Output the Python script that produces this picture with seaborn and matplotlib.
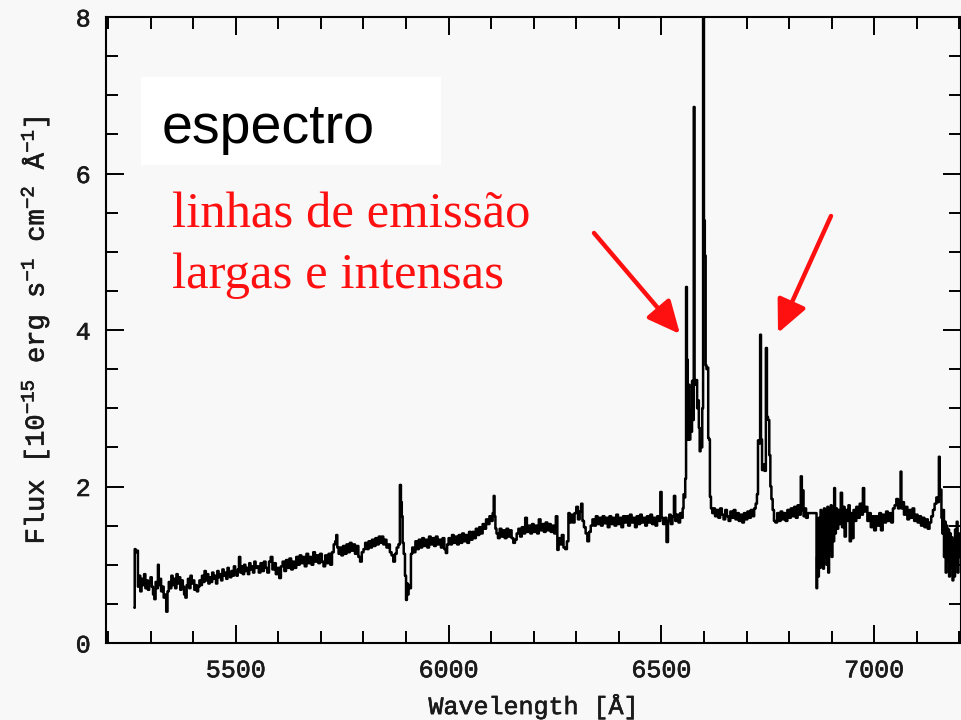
import matplotlib
matplotlib.use("Agg")
import matplotlib.pyplot as plt
import matplotlib.patheffects as pe
import seaborn as sns
import pandas as pd
from matplotlib.ticker import MultipleLocator
from matplotlib.patches import Rectangle

# ---------------- data (wavelength [A], flux) ----------------
blue_segment = [
    (5262, 0.45), (5263, 1.20), (5266, 1.16), (5269, 1.18), (5271, 0.72), (5274, 0.86),
    (5277, 0.66), (5280, 0.82), (5283, 0.74), (5286, 0.88), (5289, 0.70), (5292, 0.80),
    (5295, 0.68), (5298, 0.78), (5301, 0.84), (5304, 0.72), (5307, 0.62), (5310, 0.56),
    (5313, 0.78), (5316, 0.70), (5318, 1.00), (5320, 0.74), (5323, 0.82), (5326, 0.66),
    (5329, 0.72), (5332, 0.58), (5335, 0.62), (5338, 0.40), (5341, 0.66), (5344, 0.78),
    (5347, 0.70), (5350, 0.86), (5353, 0.74), (5356, 0.82), (5359, 0.70), (5362, 0.88),
    (5365, 0.76), (5368, 0.84), (5371, 0.68), (5374, 0.80), (5377, 0.72), (5380, 0.62),
    (5383, 0.58), (5386, 0.74), (5389, 0.82), (5392, 0.70), (5395, 0.86), (5398, 0.76),
    (5401, 0.80), (5404, 0.68), (5407, 0.74), (5410, 0.66), (5413, 0.72), (5416, 0.80),
    (5419, 0.74), (5422, 0.86), (5425, 0.78), (5428, 0.92), (5431, 0.80), (5434, 0.88),
    (5437, 0.76), (5440, 0.84), (5443, 0.78), (5446, 0.90), (5449, 0.82), (5452, 0.86),
    (5455, 0.76), (5458, 0.92), (5461, 0.84), (5464, 0.88), (5467, 0.80), (5470, 0.94),
    (5473, 0.86), (5476, 0.90), (5479, 0.82), (5482, 0.96), (5485, 0.88), (5488, 0.84),
    (5491, 0.92), (5494, 0.86), (5497, 0.98), (5500, 0.90), (5503, 0.86), (5506, 0.94),
    (5509, 1.10), (5512, 0.90), (5515, 0.98), (5518, 0.88), (5521, 1.00), (5524, 0.92),
    (5527, 0.96), (5530, 0.88), (5533, 1.02), (5536, 0.94), (5539, 0.98), (5542, 0.90),
    (5545, 1.04), (5548, 0.96),
]

continuum_segment = [
    (5552, 0.98), (5556, 0.90), (5560, 1.02), (5564, 0.92), (5568, 1.04), (5572, 0.96),
    (5576, 0.90), (5580, 1.04), (5584, 1.10), (5588, 0.94), (5592, 1.02), (5596, 0.88),
    (5600, 0.96), (5604, 0.83), (5608, 0.98), (5612, 1.04), (5616, 0.92), (5620, 1.06),
    (5624, 0.96), (5628, 1.08), (5632, 0.94), (5636, 1.04), (5640, 0.96), (5644, 1.10),
    (5648, 1.00), (5652, 1.12), (5656, 1.02), (5660, 1.10), (5664, 0.98), (5668, 1.14),
    (5672, 1.02), (5676, 1.10), (5680, 1.00), (5684, 1.16), (5688, 1.04), (5692, 1.12),
    (5696, 1.02), (5700, 1.14), (5704, 1.04), (5708, 0.98), (5712, 1.12), (5716, 1.02),
    (5720, 1.14), (5724, 1.00), (5728, 1.16), (5732, 1.26), (5735, 1.30), (5737, 1.38),
    (5740, 1.22), (5743, 1.14), (5746, 1.22), (5750, 1.12), (5754, 1.24), (5758, 1.14),
    (5762, 1.26), (5766, 1.16), (5770, 1.28), (5774, 1.18), (5778, 1.26), (5782, 1.14),
    (5786, 1.24), (5790, 1.10), (5794, 1.04), (5798, 1.16), (5802, 1.20), (5806, 1.28),
    (5810, 1.20), (5814, 1.30), (5818, 1.22), (5822, 1.32), (5826, 1.24), (5830, 1.34),
    (5834, 1.26), (5838, 1.36), (5842, 1.28), (5845, 1.36), (5848, 1.26), (5852, 1.32),
    (5856, 1.22), (5860, 1.26), (5864, 1.16), (5868, 1.12), (5872, 1.04), (5876, 1.14),
    (5880, 1.22), (5884, 1.26), (5887, 2.02), (5889, 1.80), (5891, 1.62), (5893, 1.28),
    (5896, 1.14), (5899, 0.86), (5901, 0.55), (5903, 0.76), (5905, 0.62), (5907, 0.74),
    (5910, 0.70), (5913, 1.14), (5916, 1.22), (5920, 1.16), (5924, 1.30), (5928, 1.20),
    (5932, 1.32), (5936, 1.22), (5940, 1.34), (5944, 1.24), (5948, 1.32), (5952, 1.22),
    (5956, 1.36), (5960, 1.26), (5964, 1.34), (5968, 1.24), (5972, 1.36), (5976, 1.26),
    (5980, 1.32), (5984, 1.22), (5988, 1.34), (5992, 1.20), (5995, 1.15), (5998, 1.26),
    (6002, 1.34), (6006, 1.26), (6010, 1.38), (6014, 1.28), (6018, 1.36), (6022, 1.26),
    (6026, 1.38), (6030, 1.28), (6034, 1.40), (6038, 1.30), (6042, 1.38), (6046, 1.28),
    (6050, 1.42), (6054, 1.32), (6058, 1.42), (6062, 1.34), (6066, 1.46), (6070, 1.38),
    (6074, 1.48), (6078, 1.40), (6082, 1.52), (6086, 1.46), (6090, 1.58), (6094, 1.52),
    (6098, 1.62), (6102, 1.56), (6105, 1.66), (6107, 1.88), (6109, 1.62), (6111, 1.46),
    (6114, 1.40), (6118, 1.34), (6122, 1.46), (6126, 1.36), (6130, 1.44), (6134, 1.34),
    (6138, 1.46), (6142, 1.36), (6146, 1.44), (6150, 1.34), (6154, 1.28), (6158, 1.32),
    (6162, 1.40), (6166, 1.46), (6170, 1.36), (6174, 1.48), (6178, 1.40), (6182, 1.60),
    (6186, 1.42), (6190, 1.50), (6194, 1.40), (6198, 1.52), (6202, 1.42), (6206, 1.50),
    (6210, 1.40), (6214, 1.58), (6218, 1.44), (6222, 1.52), (6226, 1.42), (6230, 1.54),
    (6234, 1.44), (6238, 1.52), (6242, 1.42), (6246, 1.50), (6250, 1.40), (6254, 1.62),
    (6257, 1.19), (6260, 1.34), (6264, 1.26), (6268, 1.38), (6272, 1.22), (6276, 1.20),
    (6280, 1.30), (6283, 1.66), (6286, 1.54), (6290, 1.64), (6294, 1.54), (6298, 1.66),
    (6302, 1.74), (6306, 1.58), (6310, 1.68), (6313, 1.78), (6316, 1.56), (6320, 1.48),
    (6324, 1.40), (6328, 1.30), (6332, 1.42), (6336, 1.50), (6340, 1.58), (6344, 1.50),
    (6348, 1.62), (6352, 1.52), (6356, 1.60), (6360, 1.50), (6364, 1.62), (6368, 1.53),
    (6372, 1.60), (6376, 1.48), (6380, 1.62), (6384, 1.52), (6388, 1.60), (6392, 1.50),
    (6396, 1.64), (6400, 1.52), (6404, 1.60), (6408, 1.48), (6412, 1.62), (6416, 1.54),
    (6420, 1.62), (6424, 1.50), (6428, 1.64), (6432, 1.54), (6436, 1.60), (6440, 1.48),
    (6444, 1.62), (6448, 1.52), (6452, 1.64), (6456, 1.54), (6460, 1.60), (6464, 1.50),
    (6468, 1.62), (6472, 1.54), (6476, 1.64), (6480, 1.52), (6484, 1.60), (6488, 1.50),
    (6492, 1.62), (6496, 1.56), (6499, 1.93), (6502, 1.60), (6506, 1.52), (6510, 1.60),
    (6514, 1.29), (6517, 1.56), (6520, 1.64), (6524, 1.52), (6528, 1.62), (6531, 1.88),
    (6534, 1.56), (6538, 1.64), (6542, 1.54), (6546, 1.66), (6549, 1.60),
]

halpha_segment = [
    (6551, 1.72), (6553, 1.90), (6555, 1.86), (6557, 2.10), (6559, 4.55), (6561, 3.62),
    (6563, 2.60), (6565, 3.30), (6567, 2.60), (6569, 3.00), (6571, 2.70), (6573, 3.35),
    (6575, 2.85), (6577, 6.85), (6579, 3.36), (6581, 3.30), (6583, 3.36), (6585, 3.00),
    (6587, 3.10), (6589, 2.75), (6591, 2.45), (6593, 2.60), (6595, 2.50), (6597, 3.00),
    (6599, 8.50), (6601, 5.40), (6603, 4.95), (6605, 3.55), (6607, 3.50), (6609, 3.52),
    (6611, 2.62), (6613, 2.60), (6615, 1.87), (6618, 1.72), (6621, 1.66),
]

mid_segment = [
    (6624, 1.72), (6628, 1.62), (6632, 1.70), (6636, 1.60), (6640, 1.72), (6644, 1.64),
    (6648, 1.58), (6652, 1.70), (6656, 1.62), (6660, 1.56), (6664, 1.68), (6668, 1.60),
    (6672, 1.70), (6676, 1.58), (6680, 1.66), (6684, 1.56), (6688, 1.64), (6692, 1.54),
    (6696, 1.66), (6700, 1.58), (6704, 1.68), (6708, 1.60), (6712, 1.70), (6716, 1.62),
    (6720, 1.72),
]

sii_segment = [
    (6723, 1.78), (6726, 1.90), (6728, 2.59), (6731, 2.55), (6733, 3.94), (6735, 2.60),
    (6738, 2.21), (6741, 2.28), (6744, 2.20), (6747, 3.77), (6749, 2.89), (6752, 2.85),
    (6755, 2.40), (6757, 2.00), (6760, 1.84), (6763, 1.70), (6766, 1.56), (6770, 1.54),
    (6774, 1.66), (6778, 1.56), (6782, 1.68), (6786, 1.58), (6790, 1.66), (6794, 1.56),
    (6798, 1.70), (6802, 1.60), (6806, 1.72), (6810, 1.62), (6814, 1.74), (6818, 1.60),
    (6822, 1.76), (6826, 1.64), (6829, 2.13), (6831, 1.70), (6833, 1.95), (6835, 1.62),
    (6838, 1.72), (6842, 1.60), (6846, 1.66), (6864, 1.66), (6865, 0.70),
]

red_segment = [
    (6867, 1.10), (6869, 0.85), (6871, 1.60), (6873, 0.96), (6875, 1.70), (6877, 1.00),
    (6879, 1.65), (6881, 0.95), (6883, 1.72), (6885, 1.10), (6887, 1.68), (6889, 1.00),
    (6891, 1.74), (6893, 0.90), (6895, 1.70), (6897, 1.18), (6899, 1.76), (6901, 1.10),
    (6903, 1.68), (6905, 1.30), (6907, 1.98), (6909, 1.40), (6911, 1.72), (6914, 1.46),
    (6917, 1.70), (6920, 1.52), (6923, 1.92), (6926, 1.48), (6929, 1.74), (6932, 1.36),
    (6935, 1.70), (6938, 1.56), (6941, 1.76), (6944, 1.30), (6947, 1.66), (6950, 1.34),
    (6953, 1.70), (6956, 1.56), (6960, 1.74), (6964, 1.60), (6968, 1.78), (6972, 1.64),
    (6975, 1.98), (6978, 1.68), (6982, 1.74), (6986, 1.56), (6990, 1.66), (6994, 1.48),
    (6998, 1.62), (7002, 1.44), (7006, 1.62), (7010, 1.50), (7014, 1.66), (7018, 1.44),
    (7022, 1.64), (7026, 1.54), (7030, 1.68), (7034, 1.56), (7038, 1.66), (7042, 1.54),
    (7046, 1.72), (7050, 1.76), (7054, 1.84), (7058, 1.72), (7061, 1.80), (7063, 2.19),
    (7065, 1.72), (7068, 1.80), (7072, 1.64), (7076, 1.74), (7080, 1.58), (7084, 1.70),
    (7088, 1.60), (7092, 1.72), (7096, 1.56), (7100, 1.64), (7104, 1.54), (7108, 1.62),
    (7112, 1.50), (7116, 1.60), (7120, 1.48), (7124, 1.58), (7128, 1.46), (7132, 1.54),
    (7136, 1.62), (7140, 1.70), (7144, 1.78), (7148, 1.86), (7151, 1.80), (7153, 2.38),
    (7155, 1.90), (7157, 1.96), (7159, 1.60), (7161, 1.40), (7163, 1.70), (7165, 1.10),
    (7167, 1.55), (7169, 0.90), (7171, 1.50), (7173, 1.05), (7175, 1.45), (7177, 0.85),
    (7179, 1.40), (7181, 0.95), (7183, 1.35), (7185, 0.80), (7187, 1.30), (7189, 0.85),
    (7191, 1.45), (7193, 1.00), (7195, 1.55), (7197, 0.90), (7199, 1.40), (7201, 1.10),
]

x_limits = (5195, 7204)
y_limits = (0, 8)
title_text = "espectro"
note_lines = ["linhas de emissão", "largas e intensas"]
x_label = "Wavelength [Å]"
y_label = r"Flux [10$^{-15}$ erg s$^{-1}$ cm$^{-2}$ Å$^{-1}$]"

# ---------------- styling ----------------
BG = "#f8f8f8"
INK = "#1a1a1a"
sns.set_style("ticks")
plt.rcParams.update({
    "font.family": ["Liberation Mono", "DejaVu Sans"],
    "mathtext.fontset": "custom",
    "mathtext.rm": "Liberation Mono",
    "mathtext.it": "Liberation Mono:italic",
    "mathtext.bf": "Liberation Mono:bold",
    "axes.unicode_minus": True,
})
thicken = [pe.withStroke(linewidth=0.45, foreground=INK)]

segments = [blue_segment, continuum_segment, halpha_segment, mid_segment, sii_segment, red_segment]
rows = [pt for seg in segments for pt in seg]
df = pd.DataFrame(rows, columns=["wavelength", "flux"])

fig = plt.figure(figsize=(9.62, 7.2), dpi=100, facecolor=BG)
ax = fig.add_axes([106 / 962, 77 / 720, 855 / 962, 626 / 720])
ax.set_facecolor(BG)

sns.lineplot(data=df, x="wavelength", y="flux", estimator=None, sort=False,
             drawstyle="steps-mid", color="black", linewidth=1.8, ax=ax)

ax.set_xlim(*x_limits)
ax.set_ylim(*y_limits)
ax.xaxis.set_major_locator(MultipleLocator(500))
ax.xaxis.set_minor_locator(MultipleLocator(100))
ax.yaxis.set_major_locator(MultipleLocator(2))
ax.yaxis.set_minor_locator(MultipleLocator(0.5))

ax.tick_params(which="both", direction="in", top=True, right=True,
               color="black", width=1.4, labelsize=18, labelcolor=INK)
ax.tick_params(which="major", length=13, pad=11)
ax.tick_params(which="minor", length=8.5)
for s in ax.spines.values():
    s.set_linewidth(1.5)
    s.set_color("black")
for lab in ax.get_xticklabels() + ax.get_yticklabels():
    lab.set_path_effects(thicken)

xl = ax.set_xlabel(x_label, fontsize=18, color=INK, va="top")
ax.xaxis.set_label_coords(0.5, -0.080)
yl = ax.set_ylabel(y_label, fontsize=19.5, color=INK, va="center")
ax.yaxis.set_label_coords(-0.083, 0.5)
xl.set_path_effects(thicken)
yl.set_path_effects(thicken)

# white box with "espectro"
fig.add_artist(Rectangle((141 / 962, (720 - 165) / 720), 300 / 962, 88 / 720,
                         transform=fig.transFigure, facecolor="white",
                         edgecolor="none", zorder=3))
fig.text(162 / 962, (720 - 143) / 720, title_text, family=["Liberation Sans"],
         fontsize=40, color="black", va="baseline", ha="left", zorder=4)

fig.text(172 / 962, (720 - 228) / 720, note_lines[0], family=["Liberation Serif"],
         fontsize=36.5, color="#ff1010", va="baseline", ha="left")
fig.text(172 / 962, (720 - 288) / 720, note_lines[1], family=["Liberation Serif"],
         fontsize=36.5, color="#ff1010", va="baseline", ha="left")

arrow_kw = dict(arrowstyle="-|>,head_length=0.9,head_width=0.42", color="#ff1010",
                lw=3.2, mutation_scale=22, shrinkA=0, shrinkB=0)
ax.annotate("", xy=(680, 386), xytext=(594, 487), xycoords="figure pixels",
            textcoords="figure pixels", arrowprops=arrow_kw, annotation_clip=False)
ax.annotate("", xy=(778, 387), xytext=(831, 504), xycoords="figure pixels",
            textcoords="figure pixels", arrowprops=arrow_kw, annotation_clip=False)

fig.savefig("out.png", dpi=100, facecolor=BG)
